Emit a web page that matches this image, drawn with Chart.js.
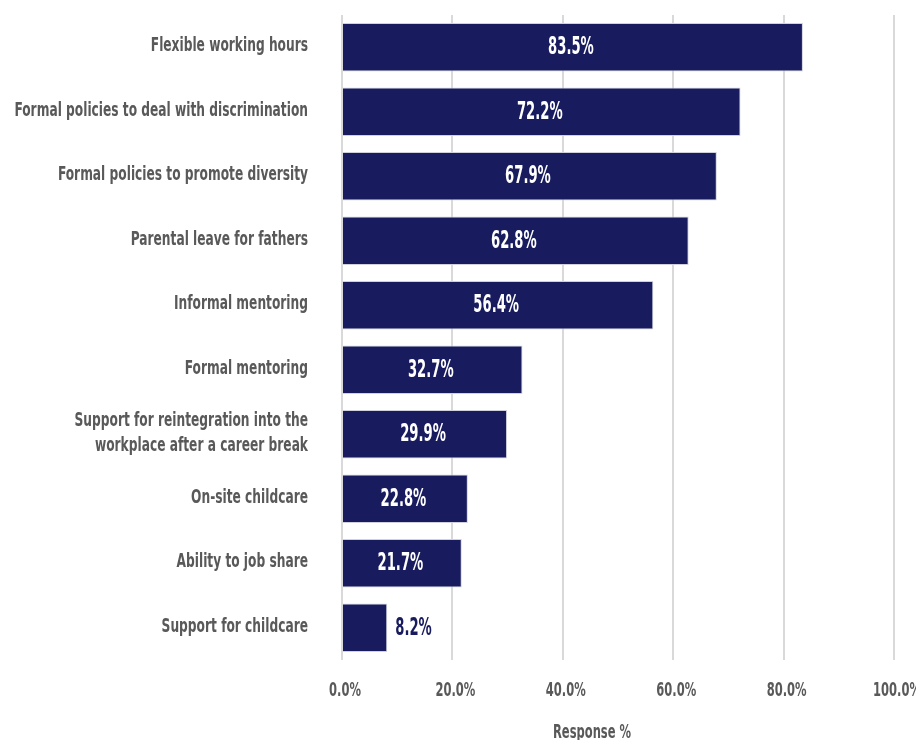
<!DOCTYPE html>
<html lang="en">
<head>
  <meta charset="UTF-8" />
  <title>Response %</title>
  <script src="https://cdn.jsdelivr.net/npm/chart.js"></script>
  <style>
    html, body { margin: 0; padding: 0; background: #fff; overflow: hidden; }
  </style>
</head>
<body>
  <canvas id="chart" width="916" height="740"></canvas>

  <script>
    // Chart data
    const categories = [
      'Flexible working hours',
      'Formal policies to deal with discrimination',
      'Formal policies to promote diversity',
      'Parental leave for fathers',
      'Informal mentoring',
      'Formal mentoring',
      ['Support for reintegration into the', 'workplace after a career break'],
      'On-site childcare',
      'Ability to job share',
      'Support for childcare'
    ];
    const responses = [83.5, 72.2, 67.9, 62.8, 56.4, 32.7, 29.9, 22.8, 21.7, 8.2];
    const xTicks = [0, 20, 40, 60, 80, 100];
    const axisTitle = 'Response %';

    const NAVY = '#181c5e';
    const GREY = '#595959';
    const FONT = "'DejaVu Sans Condensed', sans-serif";

    // condensed text: squeeze horizontally around the anchor point
    function squeezeText(ctx, text, x, y, sx) {
      ctx.save();
      ctx.translate(x, y);
      ctx.scale(sx, 1);
      ctx.fillText(text, 0, 0);
      ctx.restore();
    }

    // Axis labels, title and bar values, drawn in a narrow face
    const condensedText = {
      id: 'condensedText',
      afterDraw(chart) {
        const ctx = chart.ctx;
        const xs = chart.scales.x;
        const ys = chart.scales.y;
        ctx.save();
        ctx.textBaseline = 'middle';
        ctx.fillStyle = GREY;

        // category labels
        ctx.font = 'bold 19px ' + FONT;
        ctx.textAlign = 'right';
        categories.forEach((label, i) => {
          const cy = ys.getPixelForValue(i) - 1;
          const lines = Array.isArray(label) ? label : [label];
          const lh = 25;
          lines.forEach((line, j) => {
            const ly = cy + (j - (lines.length - 1) / 2) * lh;
            squeezeText(ctx, line, 308, ly, 0.715);
          });
        });

        // x tick labels
        ctx.font = 'bold 20px ' + FONT;
        ctx.textAlign = 'center';
        xTicks.forEach(v => {
          squeezeText(ctx, v.toFixed(1) + '%', xs.getPixelForValue(v) + 3, 691, 0.64);
        });

        // axis title
        squeezeText(ctx, axisTitle, 592, 733, 0.64);

        // values: white inside long bars, navy beside short ones
        ctx.font = 'bold 24px ' + FONT;
        chart.getDatasetMeta(0).data.forEach((bar, i) => {
          const text = responses[i].toFixed(1) + '%';
          const w = bar.x - bar.base;
          if (w > 70) {
            ctx.fillStyle = '#ffffff';
            ctx.textAlign = 'center';
            squeezeText(ctx, text, bar.base + w / 2 - 2, bar.y + 1, 0.61);
          } else {
            ctx.fillStyle = NAVY;
            ctx.textAlign = 'left';
            squeezeText(ctx, text, bar.x + 8, bar.y + 1, 0.61);
          }
        });
        ctx.restore();
      }
    };

    new Chart(document.getElementById('chart'), {
      type: 'bar',
      data: {
        labels: categories,
        datasets: [{
          data: responses,
          backgroundColor: NAVY,
          borderColor: '#d0d1dc',
          borderWidth: 1,
          borderSkipped: 'start',
          categoryPercentage: 1,
          barPercentage: 0.75
        }]
      },
      options: {
        indexAxis: 'y',
        responsive: false,
        animation: false,
        layout: { padding: { top: 15, right: 22, left: 0, bottom: 0 } },
        plugins: {
          legend: { display: false },
          tooltip: { enabled: false }
        },
        scales: {
          x: {
            min: 0,
            max: 100,
            afterBuildTicks: scale => { scale.ticks = xTicks.map(v => ({ value: v })); },
            afterFit: scale => { scale.height = 80; },
            border: { display: false },
            grid: { color: '#d9d9d9', lineWidth: 2, drawTicks: false },
            ticks: { display: false }
          },
          y: {
            afterFit: scale => { scale.width = 342; },
            border: { display: false },
            grid: { display: false, drawTicks: false },
            ticks: { display: false }
          }
        }
      },
      plugins: [condensedText]
    });
  </script>
</body>
</html>
